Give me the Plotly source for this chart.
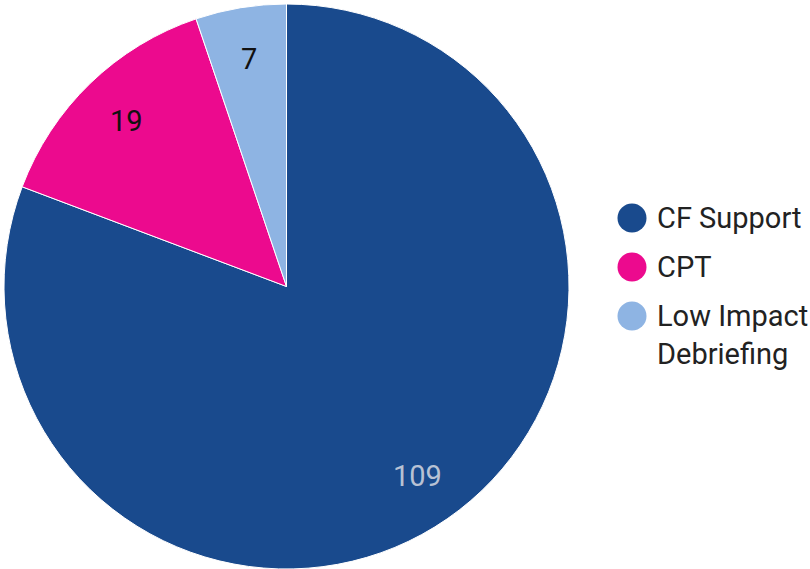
import math
import plotly.graph_objects as go

categories = ["CF Support", "CPT", "Low Impact<br>Debriefing"]
values = [109, 19, 7]
colors = ["#194A8D", "#EC0A8E", "#8EB4E3"]
label_colors = ["#B8C2D4", "#111111", "#111111"]

W, H = 810, 569
CX, CY, R = 286.5, 286.5, 282.5   # pie centre / radius in pixels
LABEL_R = 0.815


def clamp(v):
    return min(1.0, max(0.0, v))


fig = go.Figure()
fig.add_trace(go.Pie(
    labels=categories, values=values, sort=False, direction="clockwise", rotation=0,
    marker=dict(colors=colors, line=dict(color="white", width=1)),
    textinfo="none",
    domain=dict(x=[clamp((CX - R) / W), clamp((CX + R) / W)],
                y=[clamp(1 - (CY + R) / H), clamp(1 - (CY - R) / H)]),
    showlegend=False, hoverinfo="label+value",
))

# slice value labels at a fixed fraction of the radius, on each slice's mid-angle
total = sum(values)
cum = 0
for v, col in zip(values, label_colors):
    mid = (cum + v / 2) / total * 2 * math.pi
    cum += v
    px = CX + LABEL_R * R * math.sin(mid)
    py = CY - LABEL_R * R * math.cos(mid)
    fig.add_annotation(x=px / W, y=1 - py / H, xref="paper", yref="paper", text=str(v),
                       showarrow=False, xanchor="center", yanchor="middle",
                       font=dict(family="Roboto", size=29, color=col))

# custom legend: circle markers + text
fig.add_trace(go.Scatter(
    x=[0] * len(categories), y=list(range(len(categories))), mode="markers",
    marker=dict(size=29, color=colors), showlegend=False, hoverinfo="skip",
    cliponaxis=False, xaxis="x", yaxis="y",
))
for i, c in enumerate(categories):
    fig.add_annotation(x=0, y=i, xref="x", yref="y", text=c, showarrow=False,
                       xanchor="left", yanchor="top", align="left", xshift=23, yshift=19,
                       font=dict(family="Roboto", size=29, color="#222222"))

fig.update_layout(
    width=W, height=H, margin=dict(l=0, r=0, t=0, b=0),
    paper_bgcolor="white", plot_bgcolor="white",
    xaxis=dict(domain=[0.74, 1.0], range=[-32.6, 178], visible=False, fixedrange=True),
    yaxis=dict(domain=[0, 1], range=[7.163, -4.449], visible=False, fixedrange=True),
)
fig.write_html("out.html", config={"displayModeBar": False},
               post_script="document.body.style.margin='0px';")
